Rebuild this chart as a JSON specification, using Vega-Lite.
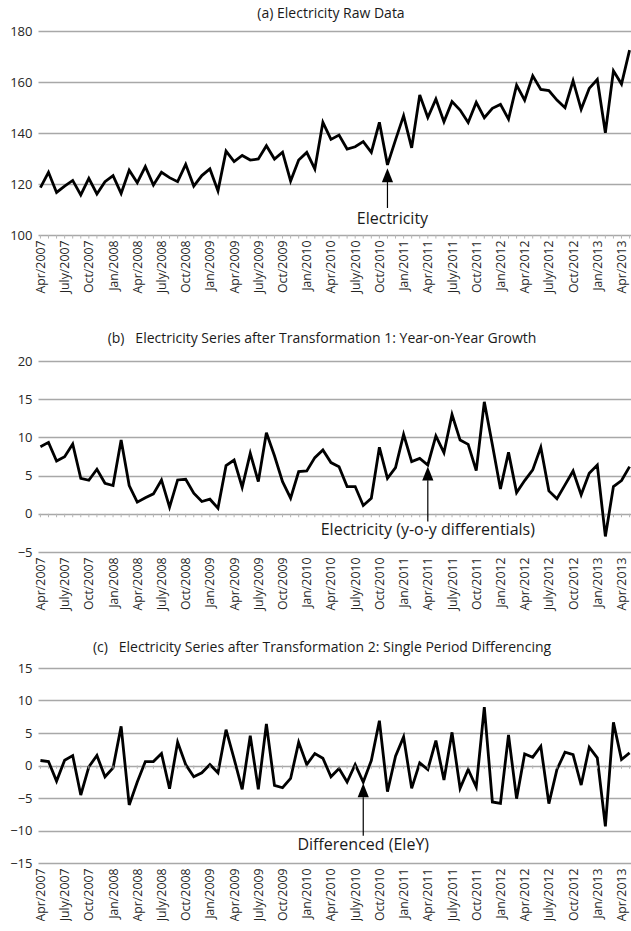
{
  "$schema": "https://vega.github.io/schema/vega-lite/v6.json",
  "padding": {"left": 9, "top": 7, "right": 0, "bottom": 0},
  "background": "white",
  "config": {
    "view": {"stroke": null},
    "font": "Open Sans",
    "title": {"font": "Open Sans", "fontSize": 14, "fontWeight": "normal", "color": "#1a1a1a", "anchor": "middle", "frame": "group"},
    "axisY": {"labelFont": "Open Sans", "labelFontSize": 13, "labelColor": "#262626", "labelPadding": 6, "ticks": false, "domain": false, "grid": true, "gridColor": "#a8a8a8", "gridWidth": 1.4, "title": null, "labelOverlap": false, "labelFlush": false},
    "axisX": {"labelFont": "Open Sans", "labelFontSize": 12.3, "labelColor": "#262626", "labelPadding": 5, "ticks": false, "domain": false, "grid": false, "labelAngle": -90, "labelOverlap": false, "title": null,
      "labelExpr": "test(regexp('^(Jan|Apr|July|Oct)/'), datum.value) ? datum.value : ''"}
  },
  "data": {"values": [
    {"m":"Apr/2007","raw":118.6,"yoy":8.78,"dif":0.77},
    {"m":"May/2007","raw":124.6,"yoy":9.35,"dif":0.61},
    {"m":"June/2007","raw":116.7,"yoy":6.91,"dif":-2.40},
    {"m":"July/2007","raw":119.2,"yoy":7.48,"dif":0.82},
    {"m":"Aug/2007","raw":121.4,"yoy":9.13,"dif":1.53},
    {"m":"Sep/2007","raw":115.7,"yoy":4.65,"dif":-4.54},
    {"m":"Oct/2007","raw":122.2,"yoy":4.39,"dif":-0.20},
    {"m":"Nov/2007","raw":116.1,"yoy":5.83,"dif":1.53},
    {"m":"Dec/2007","raw":120.9,"yoy":4.00,"dif":-1.73},
    {"m":"Jan/2008","raw":123.3,"yoy":3.70,"dif":-0.36},
    {"m":"Feb/2008","raw":116.3,"yoy":9.65,"dif":6.02},
    {"m":"Mar/2008","raw":125.4,"yoy":3.70,"dif":-6.07},
    {"m":"Apr/2008","raw":120.5,"yoy":1.52,"dif":-2.55},
    {"m":"May/2008","raw":126.8,"yoy":2.09,"dif":0.61},
    {"m":"June/2008","raw":119.6,"yoy":2.61,"dif":0.61},
    {"m":"July/2008","raw":124.6,"yoy":4.43,"dif":1.84},
    {"m":"Aug/2008","raw":122.5,"yoy":0.87,"dif":-3.57},
    {"m":"Sep/2008","raw":120.9,"yoy":4.43,"dif":3.57},
    {"m":"Oct/2008","raw":127.7,"yoy":4.52,"dif":0.15},
    {"m":"Nov/2008","raw":119.2,"yoy":2.70,"dif":-1.73},
    {"m":"Dec/2008","raw":123.3,"yoy":1.61,"dif":-1.12},
    {"m":"Jan/2009","raw":125.9,"yoy":1.91,"dif":0.15},
    {"m":"Feb/2009","raw":117.3,"yoy":0.74,"dif":-1.12},
    {"m":"Mar/2009","raw":132.9,"yoy":6.30,"dif":5.51},
    {"m":"Apr/2009","raw":128.8,"yoy":7.04,"dif":1.02},
    {"m":"May/2009","raw":131.2,"yoy":3.48,"dif":-3.67},
    {"m":"June/2009","raw":129.4,"yoy":7.91,"dif":4.59},
    {"m":"July/2009","raw":129.8,"yoy":4.22,"dif":-3.67},
    {"m":"Aug/2009","raw":135.0,"yoy":10.6,"dif":6.38},
    {"m":"Sep/2009","raw":129.8,"yoy":7.6,"dif":-3.06},
    {"m":"Oct/2009","raw":132.5,"yoy":4.2,"dif":-3.42},
    {"m":"Nov/2009","raw":121.2,"yoy":2.04,"dif":-1.99},
    {"m":"Dec/2009","raw":129.4,"yoy":5.52,"dif":3.57},
    {"m":"Jan/2010","raw":132.4,"yoy":5.61,"dif":0.15},
    {"m":"Feb/2010","raw":125.9,"yoy":7.35,"dif":1.84},
    {"m":"Mar/2010","raw":144.2,"yoy":8.35,"dif":1.12},
    {"m":"Apr/2010","raw":137.5,"yoy":6.70,"dif":-1.73},
    {"m":"May/2010","raw":139.2,"yoy":6.17,"dif":-0.46},
    {"m":"June/2010","raw":133.7,"yoy":3.57,"dif":-2.55},
    {"m":"July/2010","raw":134.6,"yoy":3.57,"dif":0.15},
    {"m":"Aug/2010","raw":136.6,"yoy":1.09,"dif":-2.55},
    {"m":"Sep/2010","raw":132.4,"yoy":2.04,"dif":0.77},
    {"m":"Oct/2010","raw":144.2,"yoy":8.70,"dif":6.89},
    {"m":"Nov/2010","raw":127.5,"yoy":4.65,"dif":-4.03},
    {"m":"Dec/2010","raw":137.3,"yoy":6.04,"dif":1.43},
    {"m":"Jan/2011","raw":146.8,"yoy":10.39,"dif":4.39},
    {"m":"Feb/2011","raw":134.2,"yoy":6.83,"dif":-3.52},
    {"m":"Mar/2011","raw":154.9,"yoy":7.26,"dif":0.41},
    {"m":"Apr/2011","raw":146.1,"yoy":6.39,"dif":-0.61},
    {"m":"May/2011","raw":153.3,"yoy":10.2,"dif":3.83},
    {"m":"June/2011","raw":144.4,"yoy":8.0,"dif":-2.24},
    {"m":"July/2011","raw":152.3,"yoy":13.0,"dif":5.10},
    {"m":"Aug/2011","raw":149.0,"yoy":9.65,"dif":-3.52},
    {"m":"Sep/2011","raw":144.1,"yoy":9.09,"dif":-0.61},
    {"m":"Oct/2011","raw":152.0,"yoy":5.65,"dif":-3.32},
    {"m":"Nov/2011","raw":146.0,"yoy":14.65,"dif":8.98},
    {"m":"Dec/2011","raw":149.7,"yoy":9.04,"dif":-5.61},
    {"m":"Jan/2012","raw":151.2,"yoy":3.26,"dif":-5.82},
    {"m":"Feb/2012","raw":145.4,"yoy":8.04,"dif":4.69},
    {"m":"Mar/2012","raw":158.8,"yoy":2.78,"dif":-5.10},
    {"m":"Apr/2012","raw":152.9,"yoy":4.35,"dif":1.79},
    {"m":"May/2012","raw":162.4,"yoy":5.74,"dif":1.28},
    {"m":"June/2012","raw":157.1,"yoy":8.70,"dif":2.96},
    {"m":"July/2012","raw":156.6,"yoy":3.0,"dif":-5.87},
    {"m":"Aug/2012","raw":152.9,"yoy":1.96,"dif":-0.61},
    {"m":"Sep/2012","raw":149.9,"yoy":3.78,"dif":2.04},
    {"m":"Oct/2012","raw":160.5,"yoy":5.61,"dif":1.68},
    {"m":"Nov/2012","raw":149.3,"yoy":2.48,"dif":-3.01},
    {"m":"Dec/2012","raw":157.5,"yoy":5.30,"dif":2.81},
    {"m":"Jan/2013","raw":161.0,"yoy":6.39,"dif":1.17},
    {"m":"Feb/2013","raw":140.1,"yoy":-2.96,"dif":-9.35},
    {"m":"Mar/2013","raw":164.4,"yoy":3.57,"dif":6.63},
    {"m":"Apr/2013","raw":159.2,"yoy":4.35,"dif":0.92},
    {"m":"May/2013","raw":172.5,"yoy":6.17,"dif":1.94}
  ]},
  "bounds": "flush",
  "spacing": 126,
  "vconcat": [
    {
      "title": {"text": "(a) Electricity Raw Data", "dx": -4, "offset": 4, "frame": "group"},
      "width": 594, "height": 204,
      "encoding": {
        "x": {"field": "m", "type": "ordinal", "scale": {"type": "point", "padding": 0.3, "domain": ["Apr/2007","May/2007","June/2007","July/2007","Aug/2007","Sep/2007","Oct/2007","Nov/2007","Dec/2007","Jan/2008","Feb/2008","Mar/2008","Apr/2008","May/2008","June/2008","July/2008","Aug/2008","Sep/2008","Oct/2008","Nov/2008","Dec/2008","Jan/2009","Feb/2009","Mar/2009","Apr/2009","May/2009","June/2009","July/2009","Aug/2009","Sep/2009","Oct/2009","Nov/2009","Dec/2009","Jan/2010","Feb/2010","Mar/2010","Apr/2010","May/2010","June/2010","July/2010","Aug/2010","Sep/2010","Oct/2010","Nov/2010","Dec/2010","Jan/2011","Feb/2011","Mar/2011","Apr/2011","May/2011","June/2011","July/2011","Aug/2011","Sep/2011","Oct/2011","Nov/2011","Dec/2011","Jan/2012","Feb/2012","Mar/2012","Apr/2012","May/2012","June/2012","July/2012","Aug/2012","Sep/2012","Oct/2012","Nov/2012","Dec/2012","Jan/2013","Feb/2013","Mar/2013","Apr/2013","May/2013"]}}
      },
      "layer": [
        {"mark": {"type": "line", "color": "#000000", "strokeWidth": 2.8},
         "encoding": {"y": {"field": "raw", "type": "quantitative", "scale": {"domain": [100, 180], "nice": false, "zero": false}, "axis": {"values": [100, 120, 140, 160, 180], "grid": true}}}},
        {"mark": {"type": "rule", "color": "#b5b5b5", "strokeWidth": 1},
         "encoding": {"y": {"datum": 100, "type": "quantitative", "axis": {"values": [100, 120, 140, 160, 180], "grid": true}}, "y2": {"datum": 98.6}}},
        {"data": {"values": [{}]},
         "mark": {"type": "rule", "color": "#000000", "strokeWidth": 1.2},
         "encoding": {"x": {"datum": "Nov/2010"}, "y": {"datum": 120.8, "type": "quantitative", "axis": {"values": [100, 120, 140, 160, 180], "grid": true}}, "y2": {"datum": 110.6}}},
        {"data": {"values": [{}]},
         "mark": {"type": "point", "shape": "M0,-1L0.8,1L-0.8,1Z", "filled": true, "color": "#000000", "size": 196, "opacity": 1},
         "encoding": {"x": {"datum": "Nov/2010"}, "y": {"datum": 123.4, "type": "quantitative", "axis": {"values": [100, 120, 140, 160, 180], "grid": true}}}},
        {"data": {"values": [{}]},
         "mark": {"type": "text", "text": "Electricity", "font": "Open Sans", "fontSize": 16, "color": "#1a1a1a", "align": "center", "baseline": "middle", "dx": 5},
         "encoding": {"x": {"datum": "Nov/2010"}, "y": {"datum": 106.3, "type": "quantitative", "axis": {"values": [100, 120, 140, 160, 180], "grid": true}}}}
      ]
    },
    {
      "bounds": "flush",
      "spacing": 116,
      "vconcat": [
        {
          "title": {"text": "(b)\u00a0\u00a0 Electricity Series after Transformation 1: Year-on-Year Growth", "dx": -13, "offset": 9, "frame": "group"},
          "width": 594, "height": 191,
          "encoding": {
            "x": {"field": "m", "type": "ordinal", "scale": {"type": "point", "padding": 0.3, "domain": ["Apr/2007","May/2007","June/2007","July/2007","Aug/2007","Sep/2007","Oct/2007","Nov/2007","Dec/2007","Jan/2008","Feb/2008","Mar/2008","Apr/2008","May/2008","June/2008","July/2008","Aug/2008","Sep/2008","Oct/2008","Nov/2008","Dec/2008","Jan/2009","Feb/2009","Mar/2009","Apr/2009","May/2009","June/2009","July/2009","Aug/2009","Sep/2009","Oct/2009","Nov/2009","Dec/2009","Jan/2010","Feb/2010","Mar/2010","Apr/2010","May/2010","June/2010","July/2010","Aug/2010","Sep/2010","Oct/2010","Nov/2010","Dec/2010","Jan/2011","Feb/2011","Mar/2011","Apr/2011","May/2011","June/2011","July/2011","Aug/2011","Sep/2011","Oct/2011","Nov/2011","Dec/2011","Jan/2012","Feb/2012","Mar/2012","Apr/2012","May/2012","June/2012","July/2012","Aug/2012","Sep/2012","Oct/2012","Nov/2012","Dec/2012","Jan/2013","Feb/2013","Mar/2013","Apr/2013","May/2013"]}}
          },
          "layer": [
            {"mark": {"type": "line", "color": "#000000", "strokeWidth": 2.8},
             "encoding": {"y": {"field": "yoy", "type": "quantitative", "scale": {"domain": [-5, 20], "nice": false, "zero": false}, "axis": {"values": [-5, 0, 5, 10, 15, 20], "grid": true}}}},
            {"mark": {"type": "rule", "color": "#b5b5b5", "strokeWidth": 1},
             "encoding": {"y": {"datum": 0, "type": "quantitative", "axis": {"values": [-5, 0, 5, 10, 15, 20], "grid": true}}, "y2": {"datum": -0.45}}},
            {"data": {"values": [{}]},
             "mark": {"type": "rule", "color": "#000000", "strokeWidth": 1.2},
             "encoding": {"x": {"datum": "Apr/2011"}, "y": {"datum": 4.4, "type": "quantitative", "axis": {"values": [-5, 0, 5, 10, 15, 20], "grid": true}}, "y2": {"datum": -1.0}}},
            {"data": {"values": [{}]},
             "mark": {"type": "point", "shape": "M0,-1L0.8,1L-0.8,1Z", "filled": true, "color": "#000000", "size": 196, "opacity": 1},
             "encoding": {"x": {"datum": "Apr/2011"}, "y": {"datum": 5.29, "type": "quantitative", "axis": {"values": [-5, 0, 5, 10, 15, 20], "grid": true}}}},
            {"data": {"values": [{}]},
             "mark": {"type": "text", "text": "Electricity (y-o-y differentials)", "font": "Open Sans", "fontSize": 16, "color": "#1a1a1a", "align": "center", "baseline": "middle"},
             "encoding": {"x": {"datum": "Apr/2011"}, "y": {"datum": -2.1, "type": "quantitative", "axis": {"values": [-5, 0, 5, 10, 15, 20], "grid": true}}}}
          ]
        },
        {
          "title": {"text": "(c)\u00a0\u00a0 Electricity Series after Transformation 2: Single Period Differencing", "dx": -13, "offset": 7, "frame": "group"},
          "width": 594, "height": 195,
          "encoding": {
            "x": {"field": "m", "type": "ordinal", "scale": {"type": "point", "padding": 0.3, "domain": ["Apr/2007","May/2007","June/2007","July/2007","Aug/2007","Sep/2007","Oct/2007","Nov/2007","Dec/2007","Jan/2008","Feb/2008","Mar/2008","Apr/2008","May/2008","June/2008","July/2008","Aug/2008","Sep/2008","Oct/2008","Nov/2008","Dec/2008","Jan/2009","Feb/2009","Mar/2009","Apr/2009","May/2009","June/2009","July/2009","Aug/2009","Sep/2009","Oct/2009","Nov/2009","Dec/2009","Jan/2010","Feb/2010","Mar/2010","Apr/2010","May/2010","June/2010","July/2010","Aug/2010","Sep/2010","Oct/2010","Nov/2010","Dec/2010","Jan/2011","Feb/2011","Mar/2011","Apr/2011","May/2011","June/2011","July/2011","Aug/2011","Sep/2011","Oct/2011","Nov/2011","Dec/2011","Jan/2012","Feb/2012","Mar/2012","Apr/2012","May/2012","June/2012","July/2012","Aug/2012","Sep/2012","Oct/2012","Nov/2012","Dec/2012","Jan/2013","Feb/2013","Mar/2013","Apr/2013","May/2013"]}}
          },
          "layer": [
            {"mark": {"type": "line", "color": "#000000", "strokeWidth": 2.8},
             "encoding": {"y": {"field": "dif", "type": "quantitative", "scale": {"domain": [-15, 15], "nice": false, "zero": false}, "axis": {"values": [-15, -10, -5, 0, 5, 10, 15], "grid": true}}}},
            {"mark": {"type": "rule", "color": "#b5b5b5", "strokeWidth": 1},
             "encoding": {"y": {"datum": 0, "type": "quantitative", "axis": {"values": [-15, -10, -5, 0, 5, 10, 15], "grid": true}}, "y2": {"datum": -0.5}}},
            {"data": {"values": [{}]},
             "mark": {"type": "rule", "color": "#000000", "strokeWidth": 1.2},
             "encoding": {"x": {"datum": "Aug/2010"}, "y": {"datum": -4.9, "type": "quantitative", "axis": {"values": [-15, -10, -5, 0, 5, 10, 15], "grid": true}}, "y2": {"datum": -10.8}}},
            {"data": {"values": [{}]},
             "mark": {"type": "point", "shape": "M0,-1L0.8,1L-0.8,1Z", "filled": true, "color": "#000000", "size": 196, "opacity": 1},
             "encoding": {"x": {"datum": "Aug/2010"}, "y": {"datum": -3.8, "type": "quantitative", "axis": {"values": [-15, -10, -5, 0, 5, 10, 15], "grid": true}}}},
            {"data": {"values": [{}]},
             "mark": {"type": "text", "text": "Differenced (EleY)", "font": "Open Sans", "fontSize": 16, "color": "#1a1a1a", "align": "center", "baseline": "middle"},
             "encoding": {"x": {"datum": "Aug/2010"}, "y": {"datum": -12.2, "type": "quantitative", "axis": {"values": [-15, -10, -5, 0, 5, 10, 15], "grid": true}}}}
          ]
        }
      ]
    }
  ]
}
